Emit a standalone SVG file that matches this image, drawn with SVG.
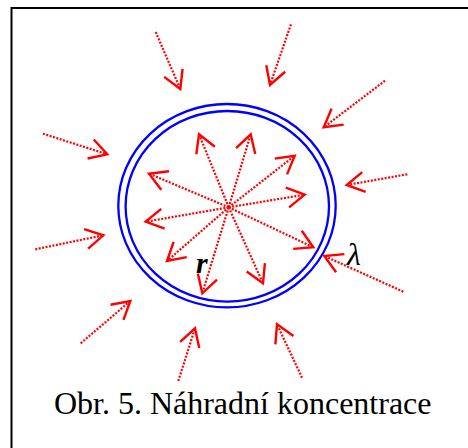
<svg xmlns="http://www.w3.org/2000/svg" width="468" height="448" viewBox="0 0 468 448">
<defs>
<marker id="ah" markerUnits="userSpaceOnUse" markerWidth="40" markerHeight="40" refX="0" refY="0" viewBox="-25 -20 30 40" orient="auto" overflow="visible">
<path d="M-17.5,-10 L0,0 L-17.5,10" fill="none" stroke="#ff0000" stroke-width="2.4"/>
</marker>
<style>
.a{fill:none;stroke:#ff0000;stroke-width:2.2;stroke-dasharray:2 1.5;marker-end:url(#ah)}
.c{fill:none;stroke:#0000ff;stroke-width:2.3}
.t{font-family:"Liberation Serif","Times New Roman",serif;fill:#000}
</style>
</defs>
<rect width="468" height="448" fill="#fff"/>
<rect x="11.5" y="8" width="470" height="460" fill="none" stroke="#000" stroke-width="2"/>
<g id="ring">
<ellipse class="c" cx="227" cy="205.7" rx="108.7" ry="101.7"/>
<ellipse class="c" cx="227.3" cy="206.3" rx="101.7" ry="95.3"/>
</g>
<g id="connectors">
<path class="a" d="M228.7,207.3 L199,134.3"/>
<path class="a" d="M228.7,207.3 L250.7,134.3"/>
<path class="a" d="M228.7,207.3 L294.7,155.7"/>
<path class="a" d="M228.7,207.3 L304.7,194.7"/>
<path class="a" d="M228.7,207.3 L313.3,247.3"/>
<path class="a" d="M228.7,207.3 L263,283.3"/>
<path class="a" d="M228.7,207.3 L202.3,293.3"/>
<path class="a" d="M228.7,207.3 L167,261"/>
<path class="a" d="M228.7,207.3 L145.7,221.7"/>
<path class="a" d="M228.7,207.3 L149,173.7"/>
<path class="a" d="M155.7,32 L180.3,89"/>
<path class="a" d="M291,24.3 L270,85"/>
<path class="a" d="M385,80.7 L323.7,127.3"/>
<path class="a" d="M407.3,174.3 L346.7,185"/>
<path class="a" d="M403.3,291.7 L324.3,256"/>
<path class="a" d="M302,377.7 L277,324.3"/>
<path class="a" d="M178.3,381 L195,328.3"/>
<path class="a" d="M80.7,343.3 L130.3,301"/>
<path class="a" d="M35.3,249.3 L103.3,235.3"/>
<path class="a" d="M43,133.7 L107.3,154.3"/>
</g>
<g id="labels">
<text class="t" x="196" y="273" font-size="30" font-style="italic" font-weight="bold">r</text>
<text class="t" x="347" y="265" font-size="32" font-style="italic">λ</text>
<text class="t" x="242.7" y="414" font-size="32" text-anchor="middle">Obr. 5. Náhradní koncentrace</text>
</g>
</svg>
